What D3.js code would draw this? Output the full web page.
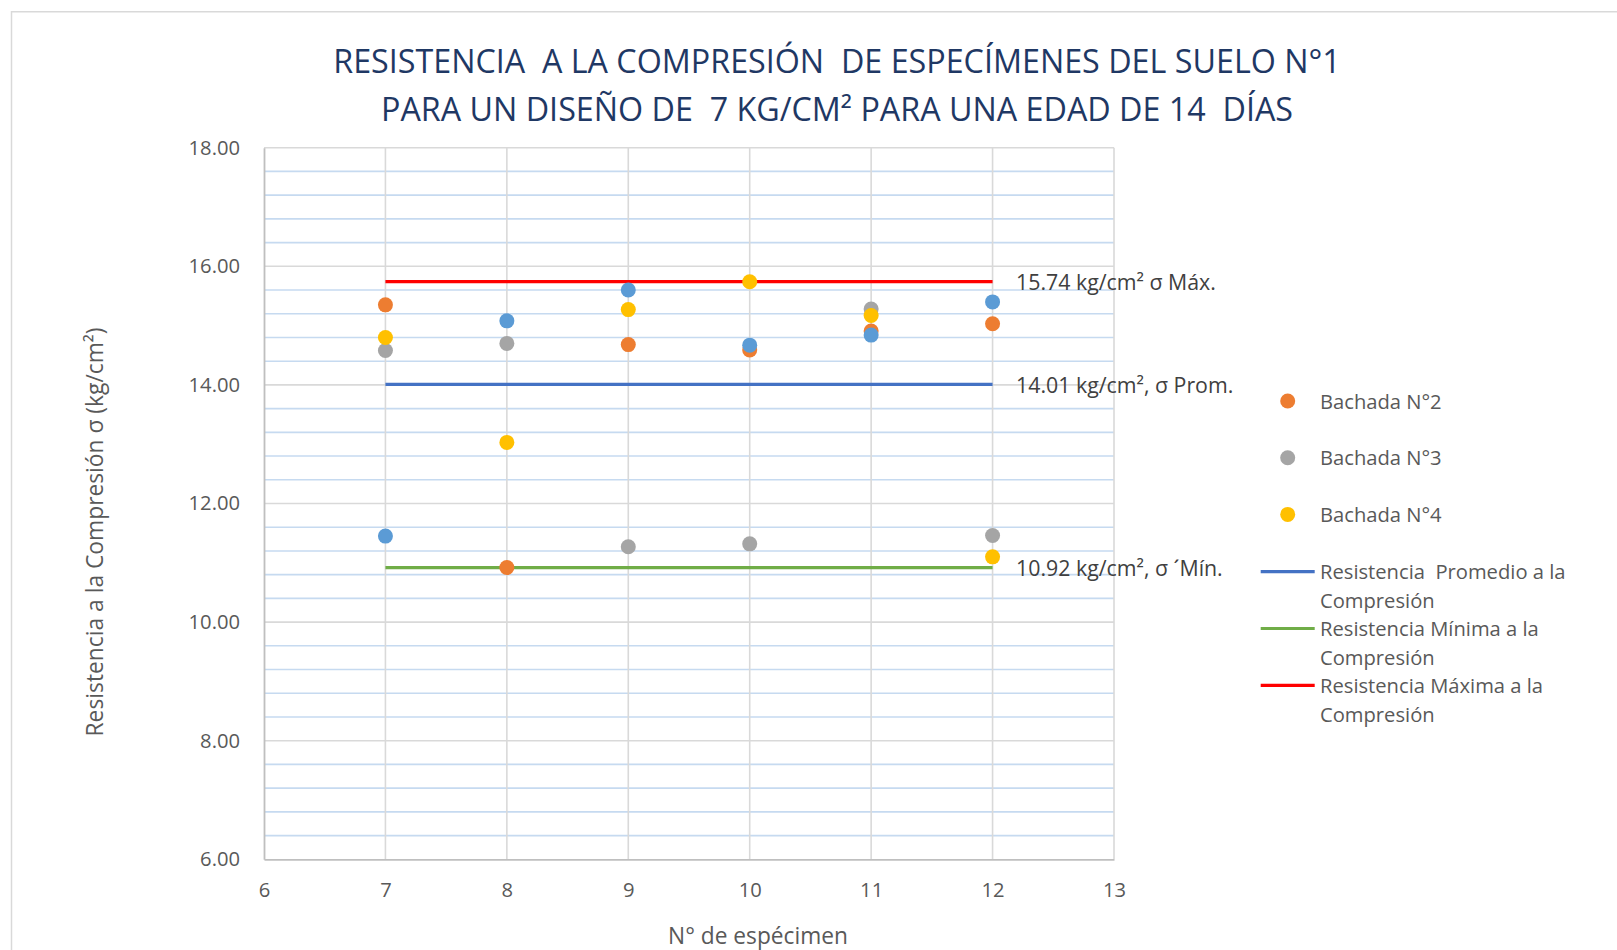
<!DOCTYPE html>
<html>
<head>
<meta charset="utf-8">
<script src="https://cdn.jsdelivr.net/npm/d3@7"></script>
<style>
  html, body { margin: 0; padding: 0; background: #fff; }
  svg { display: block; }
  text { font-family: "Open Sans", "Noto Sans", sans-serif; white-space: pre; }
</style>
</head>
<body>
<svg id="chart" width="1617" height="950"></svg>
<script>
// Specimen numbers (x) and compressive strength per batch (kg/cm²)
const specimens = [7, 8, 9, 10, 11, 12];
const bachada1 = [11.45, 15.08, 15.60, 14.67, 14.84, 15.40];
const bachada2 = [15.35, 10.92, 14.68, 14.59, 14.91, 15.03];
const bachada3 = [14.58, 14.70, 11.27, 11.32, 15.28, 11.46];
const bachada4 = [14.80, 13.03, 15.27, 15.74, 15.17, 11.10];

// Reference strengths
const promedio = 14.01;
const minimo = 10.92;
const maximo = 15.74;

// Axis ticks
const xTicks = [6, 7, 8, 9, 10, 11, 12, 13];
const yTicks = [6, 8, 10, 12, 14, 16, 18];
const yMinorStep = 0.4;

const titleLines = [
  "RESISTENCIA  A LA COMPRESIÓN  DE ESPECÍMENES DEL SUELO N°1",
  "PARA UN DISEÑO DE  7 KG/CM² PARA UNA EDAD DE 14  DÍAS"
];
const yTitle = "Resistencia a la Compresión σ (kg/cm²)";
const xTitle = "N° de espécimen";

const svg = d3.select("#chart");

const x = d3.scaleLinear().domain([6, 13]).range([264, 1114]);
const y = d3.scaleLinear().domain([6, 18]).range([859.3, 147.7]);

// Font size that makes a string reach a given width
function fitSize(str, width) {
  const t = svg.append("text").attr("font-size", 100).text(str);
  const w = t.node().getComputedTextLength();
  t.remove();
  return 100 * width / w;
}
const fs = fitSize("Bachada N°2", 121.7);

// Outer chart frame
svg.append("path")
  .attr("d", "M11.5,950 V11.7 H1617")
  .attr("fill", "none").attr("stroke", "#d9d9d9").attr("stroke-width", 1.5);

// Title
const titleFs = fitSize(titleLines[0], 1008);
svg.append("g").selectAll("text").data(titleLines).join("text")
  .attr("x", 837).attr("y", (d, i) => i === 0 ? 73 : 121)
  .attr("text-anchor", "middle")
  .attr("font-size", titleFs)
  .attr("fill", "#1f3864")
  .text(d => d);

// Grid
const grid = svg.append("g");
const minorVals = d3.range(0, 31).map(i => 6 + i * yMinorStep)
  .filter(v => !yTicks.some(t => Math.abs(t - v) < 1e-6));
grid.selectAll(".minor").data(minorVals).join("line")
  .attr("x1", x(6)).attr("x2", x(13))
  .attr("y1", d => y(d)).attr("y2", d => y(d))
  .attr("stroke", "#c6daf0").attr("stroke-width", 1.6);
grid.selectAll(".major").data(yTicks.filter(v => v > 6)).join("line")
  .attr("x1", x(6)).attr("x2", x(13))
  .attr("y1", d => y(d)).attr("y2", d => y(d))
  .attr("stroke", "#d9d9d9").attr("stroke-width", 1.6);
grid.selectAll(".vert").data(xTicks.filter(v => v > 6)).join("line")
  .attr("x1", d => x(d)).attr("x2", d => x(d))
  .attr("y1", y(6)).attr("y2", y(18))
  .attr("stroke", "#d9d9d9").attr("stroke-width", 1.6);

// Axes
const yAxis = svg.append("g").attr("transform", `translate(${x(6)},0)`)
  .call(d3.axisLeft(y).tickValues(yTicks).tickFormat(d3.format(".2f")).tickSize(0).tickPadding(24));
const xAxis = svg.append("g").attr("transform", `translate(0,${y(6)})`)
  .call(d3.axisBottom(x).tickValues(xTicks).tickFormat(d3.format("d")).tickSize(0).tickPadding(23));
[yAxis, xAxis].forEach(a => {
  a.select(".domain").attr("stroke", "#bfbfbf").attr("stroke-width", 1.8);
  a.selectAll("text").attr("font-size", fs).attr("fill", "#595959").attr("font-family", null);
});

// Axis titles
svg.append("text")
  .attr("transform", "translate(103,532) rotate(-90)")
  .attr("text-anchor", "middle")
  .attr("font-size", fitSize(yTitle, 409))
  .attr("fill", "#595959")
  .text(yTitle);
svg.append("text")
  .attr("x", 758).attr("y", 944)
  .attr("text-anchor", "middle")
  .attr("font-size", fitSize(xTitle, 180))
  .attr("fill", "#595959")
  .text(xTitle);

// Reference lines
const refLines = [
  { v: promedio, color: "#4472c4", label: `${promedio.toFixed(2)} kg/cm², σ Prom.`, name: ["Resistencia  Promedio a la", "Compresión"] },
  { v: minimo, color: "#70ad47", label: `${minimo.toFixed(2)} kg/cm², σ ´Mín.`, name: ["Resistencia Mínima a la", "Compresión"] },
  { v: maximo, color: "#ff0000", label: `${maximo.toFixed(2)} kg/cm² σ Máx.`, name: ["Resistencia Máxima a la", "Compresión"] }
];
const annFs = fitSize(refLines[2].label, 200);
const line = d3.line().x(d => x(d[0])).y(d => y(d[1]));
svg.append("g").selectAll("path").data(refLines).join("path")
  .attr("d", d => line([[specimens[0], d.v], [specimens[specimens.length - 1], d.v]]))
  .attr("fill", "none").attr("stroke", d => d.color).attr("stroke-width", 3.2);
svg.append("g").selectAll("text").data(refLines).join("text")
  .attr("x", 1016).attr("y", d => y(d.v) + 8.5)
  .attr("font-size", annFs).attr("fill", "#404040")
  .text(d => d.label);

// Scatter series (drawn in stacking order)
const series = [
  { name: "Bachada N°2", values: bachada2, color: "#ed7d31", legend: true },
  { name: "Bachada N°3", values: bachada3, color: "#a5a5a5", legend: true },
  { name: "Bachada N°4", values: bachada4, color: "#ffc000", legend: true },
  { name: "Bachada N°1", values: bachada1, color: "#5b9bd5", legend: false }
];
series.forEach(s => {
  svg.append("g").selectAll("circle")
    .data(specimens.map((sp, i) => [sp, s.values[i]]))
    .join("circle")
    .attr("cx", d => x(d[0])).attr("cy", d => y(d[1]))
    .attr("r", 7.5).attr("fill", s.color);
});

// Legend
const legend = svg.append("g");
const markerEntries = series.filter(s => s.legend);
markerEntries.forEach((s, i) => {
  const cy = 401 + i * 56.7;
  legend.append("circle").attr("cx", 1287.7).attr("cy", cy).attr("r", 7.5).attr("fill", s.color);
  legend.append("text").attr("x", 1320).attr("y", cy + 7.5)
    .attr("font-size", fs).attr("fill", "#595959").text(s.name);
});
refLines.forEach((r, i) => {
  const ly = 571.7 + i * 56.8;
  legend.append("line").attr("x1", 1260.7).attr("x2", 1314.7).attr("y1", ly).attr("y2", ly)
    .attr("stroke", r.color).attr("stroke-width", 3.2);
  r.name.forEach((t, j) => {
    legend.append("text").attr("x", 1320).attr("y", ly + 7.5 + j * 28.7)
      .attr("font-size", fs).attr("fill", "#595959").text(t);
  });
});
</script>
</body>
</html>
